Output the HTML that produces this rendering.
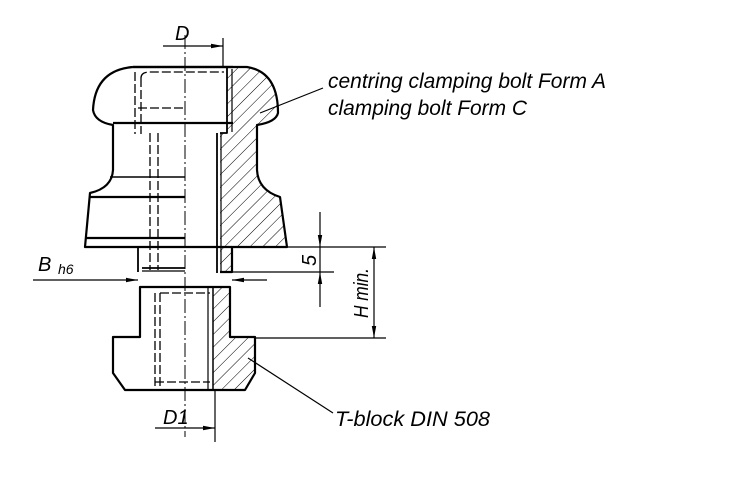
<!DOCTYPE html>
<html><head><meta charset="utf-8"><style>
html,body{margin:0;padding:0;background:#fff;}
svg{display:block;}
text{font-family:"Liberation Sans",sans-serif;font-style:italic;fill:#000;}
</style></head><body>
<svg width="750" height="479" viewBox="0 0 750 479" xmlns="http://www.w3.org/2000/svg">
<defs>
<pattern id="h" patternUnits="userSpaceOnUse" width="9" height="9" patternTransform="rotate(45)">
<line x1="0" y1="0" x2="0" y2="9" stroke="#000" stroke-width="1"/>
</pattern>
<marker id="a" markerWidth="12" markerHeight="6" refX="12" refY="3" orient="auto" markerUnits="userSpaceOnUse">
<path d="M0,0.8 L12,3 L0,5.2 Z" fill="#000"/>
</marker>
</defs>
<g fill="none" stroke="#000" stroke-width="2.2" stroke-linejoin="round">
<!-- hatched areas -->
<path d="M233,67 L247,67 Q278,72 278,113 Q276,122 257,125 L257,170 Q258,190 280,197 L287,247 L232,247 L232,272 L220,272 L220,133 L227,133 L227,67 Z" fill="url(#h)" stroke="none"/>
<path d="M213,287 L230,287 L230,337 L255,337 L255,373 L245,390 L213,390 Z" fill="url(#h)" stroke="none"/>
<!-- cap + body outline -->
<path d="M133,67 L247,67 Q278,72 278,113 Q276,122 257,125 L257,170 Q258,190 280,197 L287,247 L232,247 L232,272 L220,272"/>
<path d="M133,67 Q95,70 93,110 Q95,122 113,125 L113,170 Q112,188 90,193 L85,247 L232,247"/>
<line x1="133" y1="67" x2="233" y2="67"/>
<line x1="113" y1="123" x2="233" y2="123"/>
<line x1="110" y1="177" x2="185" y2="177" stroke-width="1.5"/>
<line x1="90" y1="197" x2="185" y2="197"/>
<line x1="86" y1="238" x2="185" y2="238"/>
<!-- inner cap pocket -->
<path d="M227,67 L227,133 L220,133" stroke-width="1.8"/>
<line x1="232" y1="69" x2="232" y2="132" stroke-width="1.2"/>
<line x1="217" y1="133" x2="217" y2="273" stroke-width="1.8"/>
<line x1="221" y1="133" x2="221" y2="272" stroke-width="1.2"/>
<!-- stem -->
<line x1="138" y1="247" x2="138" y2="272" stroke-width="1.8"/>
<line x1="142" y1="268" x2="185" y2="268" stroke-width="1.8"/>
<line x1="142" y1="271" x2="185" y2="271" stroke-width="1.2"/>
<!-- T-block -->
<path d="M140,287 L230,287 L230,337 L255,337 L255,373 L245,390 L125,390 L113,373 L113,337 L140,337 Z"/>
<line x1="213" y1="287" x2="213" y2="390" stroke-width="1.5"/>
<line x1="208" y1="287" x2="208" y2="390" stroke-width="1.2"/>
</g>
<!-- hidden lines -->
<g fill="none" stroke="#000" stroke-width="1.3" stroke-dasharray="9,3">
<path d="M135,72 L135,134"/><path d="M141,78 Q141,72 150,72 L224,72"/>
<path d="M141,78 L141,134"/>
<path d="M150,133 L150,270"/><path d="M158,133 L158,270"/>
<path d="M155,293 L155,388"/><path d="M160,293 L160,388"/>
<path d="M160,293 L210,293"/><path d="M155,382 L210,382"/>
<path d="M138,108 L185,108"/>
</g>
<!-- centerline -->
<line x1="185" y1="35" x2="185" y2="437" stroke="#000" stroke-width="1" stroke-dasharray="14,3,2,3"/>
<!-- dimension lines -->
<g stroke="#000" stroke-width="1.2" fill="none">
<line x1="223" y1="38" x2="223" y2="67"/>
<line x1="163" y1="46" x2="223" y2="46" marker-end="url(#a)"/>
<line x1="215" y1="390" x2="215" y2="442"/>
<line x1="155" y1="428" x2="215" y2="428" marker-end="url(#a)"/>
<line x1="33" y1="280" x2="138" y2="280" marker-end="url(#a)"/>
<line x1="267" y1="280" x2="232" y2="280" marker-end="url(#a)"/>
<line x1="232" y1="247" x2="386" y2="247"/>
<line x1="255" y1="338" x2="386" y2="338"/>
<line x1="232" y1="272" x2="334" y2="272"/>
<line x1="374" y1="292" x2="374" y2="247" marker-end="url(#a)"/>
<line x1="374" y1="292" x2="374" y2="338" marker-end="url(#a)"/>
<line x1="320" y1="212" x2="320" y2="247" marker-end="url(#a)"/>
<line x1="320" y1="307" x2="320" y2="272" marker-end="url(#a)"/>
<line x1="320" y1="247" x2="320" y2="272"/>
<line x1="260" y1="113" x2="323" y2="88"/>
<line x1="248" y1="358" x2="333" y2="413"/>
</g>
<!-- labels -->
<text x="175" y="40" font-size="20">D</text>
<text x="163" y="424" font-size="20">D1</text>
<text x="38" y="271" font-size="20">B</text>
<text x="58" y="274" font-size="14">h6</text>
<text x="328" y="88" font-size="21" textLength="278" lengthAdjust="spacingAndGlyphs">centring clamping bolt Form A</text>
<text x="328" y="115" font-size="21" textLength="199" lengthAdjust="spacingAndGlyphs">clamping bolt Form C</text>
<text x="335" y="426" font-size="21" textLength="155" lengthAdjust="spacingAndGlyphs">T-block DIN 508</text>
<text transform="translate(316,266) rotate(-90)" font-size="20">5</text>
<text transform="translate(368,318) rotate(-90)" font-size="20" textLength="50" lengthAdjust="spacingAndGlyphs">H min.</text>
</svg>
</body></html>
